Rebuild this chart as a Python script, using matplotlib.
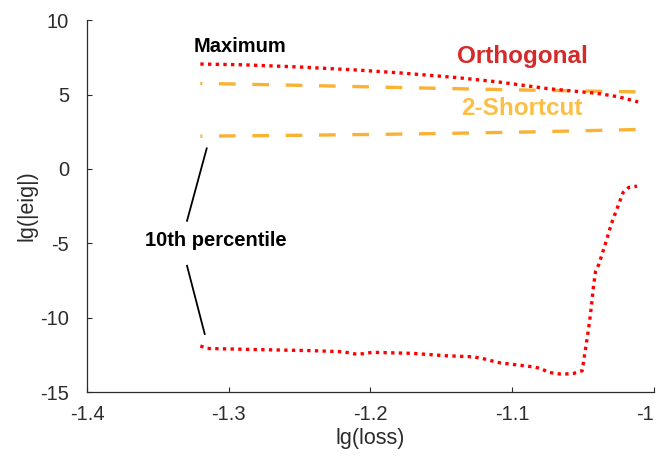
import matplotlib
matplotlib.use('Agg')
import matplotlib.pyplot as plt

plt.rcParams['font.family'] = ['Liberation Sans', 'DejaVu Sans']
plt.rcParams['axes.unicode_minus'] = False

# orthogonal, maximum eigenvalue
orth_max_x = [-1.320, -1.290, -1.250, -1.210, -1.180, -1.140, -1.110, -1.075, -1.040, -1.025, -1.011]
orth_max_y = [7.05, 7.00, 6.85, 6.65, 6.46, 6.15, 5.85, 5.40, 5.08, 4.85, 4.50]

# orthogonal, 10th percentile
orth_p10_x = [-1.320, -1.315, -1.2875, -1.2406, -1.2195, -1.209, -1.1984, -1.170, -1.1467,
              -1.128, -1.121, -1.109, -1.0857, -1.080, -1.074, -1.0646, -1.0563, -1.0505,
              -1.0488, -1.0470, -1.0453, -1.0439, -1.0427, -1.0411, -1.0387, -1.0368,
              -1.0333, -1.0298, -1.0258, -1.0216, -1.0176, -1.0118]
orth_p10_y = [-11.9, -12.07, -12.13, -12.22, -12.29, -12.47, -12.33, -12.40, -12.56,
              -12.63, -12.74, -13.03, -13.30, -13.41, -13.68, -13.81, -13.74, -13.57,
              -12.5, -11.39, -10.27, -9.15, -8.03, -6.91, -6.40, -5.84,
              -4.78, -3.66, -2.65, -1.58, -1.24, -1.16]

# 2-shortcut
sc_x = [-1.320, -1.250, -1.170, -1.090, -1.011]
sc_max_y = [5.75, 5.62, 5.45, 5.30, 5.18]
sc_p10_y = [2.20, 2.26, 2.35, 2.48, 2.65]

RED = '#ff0000'
ORANGE = '#f9b233'
DARK = '#2b2b2b'

fig = plt.figure(figsize=(6.59, 4.58), dpi=100)
ax = fig.add_axes([0.132, 0.144, 0.860, 0.812])

ax.plot(sc_x, sc_max_y, color=ORANGE, lw=2.4, ls=(4.4, (5, 5)), dash_capstyle='butt')
ax.plot(sc_x, sc_p10_y, color=ORANGE, lw=2.4, ls=(4.4, (5, 5)), dash_capstyle='butt')
ax.plot(orth_max_x, orth_max_y, color=RED, lw=2.4, dashes=(1.0, 1.3))
ax.plot(orth_p10_x, orth_p10_y, color=RED, lw=2.4, dashes=(1.0, 1.3))

ax.text(-1.292, 8.2, 'Maximum', fontsize=14.5, fontweight='bold', ha='center', va='center')
ax.text(-1.309, -4.78, '10th percentile', fontsize=14.5, fontweight='bold', ha='center', va='center')
ax.plot([-1.3155, -1.3294], [1.38, -3.49], color='black', lw=1.3)
ax.plot([-1.3294, -1.3169], [-6.51, -11.10], color='black', lw=1.3)
ax.text(-1.093, 7.58, 'Orthogonal', fontsize=17.5, fontweight='bold', color='#d42a2a',
        ha='center', va='center')
ax.text(-1.093, 4.07, '2-Shortcut', fontsize=17.5, fontweight='bold', color='#fbbf45',
        ha='center', va='center')

ax.set_xlim(-1.4, -1.0)
ax.set_ylim(-15, 10)
ax.set_xticks([-1.4, -1.3, -1.2, -1.1, -1.0])
ax.set_xticklabels(['-1.4', '-1.3', '-1.2', '-1.1', '-1'])
ax.get_xticklabels()[-1].set_horizontalalignment('right')
ax.set_yticks([-15, -10, -5, 0, 5, 10])
ax.tick_params(direction='in', length=3.5, width=0.8, colors=DARK, labelsize=14.5)
ax.tick_params(axis='x', pad=9)
ax.tick_params(axis='y', pad=13)
for s in ['top', 'right']:
    ax.spines[s].set_visible(False)
for s in ['left', 'bottom']:
    ax.spines[s].set_color(DARK)
    ax.spines[s].set_linewidth(0.9)
ax.set_xlabel('lg(loss)', fontsize=15.5, color=DARK, labelpad=3)
ax.set_ylabel('lg(|eig|)', fontsize=15.5, color=DARK, labelpad=2)

fig.savefig('out.png', dpi=100)
